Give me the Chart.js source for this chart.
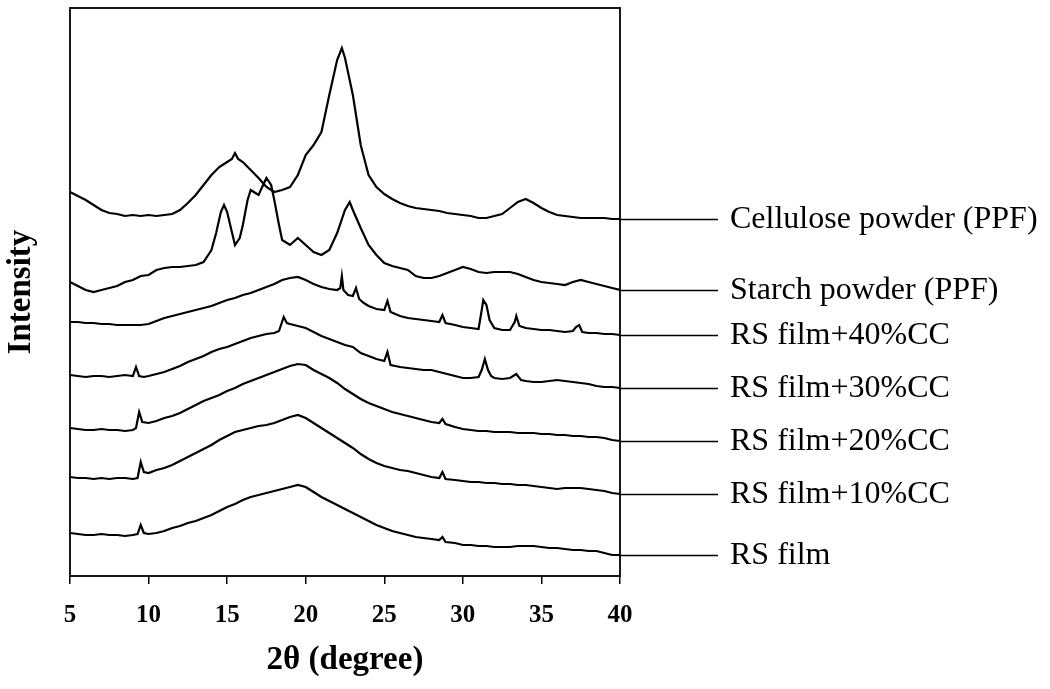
<html>
<head>
<script src="https://cdn.jsdelivr.net/npm/chart.js"></script>
<style>
  body { margin: 0; background: #fff; }
</style>
</head>
<body>
<canvas id="xrd" width="1050" height="689"></canvas>

<script>
// XRD patterns, stacked (intensity in arbitrary units, offsets already in the values)
const cellulose = [[5,384],[5.5,380],[6,376],[6.5,371],[7,366],[7.5,363],[8,362],[8.5,360],[9,361],[9.5,360],[10,361],[10.5,360],[11,361],[11.5,362],[12,366],[12.5,373],[13,381],[13.5,391],[14,401],[14.5,409],[15,414],[15.3,417],[15.5,423],[15.7,417],[16,414],[16.5,406],[17,398],[17.5,389],[18,384],[18.5,386],[19,389],[19.5,401],[20,421],[20.5,431],[21,444],[21.5,481],[22,516],[22.3,528],[22.5,518],[23,481],[23.5,431],[24,401],[24.5,389],[25,382],[25.5,377],[26,373],[26.5,370],[27,368],[27.5,367],[28,366],[28.5,365],[29,363],[29.5,362],[30,361],[30.5,360],[31,358],[31.5,358],[32,360],[32.5,362],[33,368],[33.5,374],[34,377],[34.5,373],[35,368],[35.5,364],[36,361],[36.5,360],[37,359],[37.5,358],[38,358],[38.5,358],[39,358],[39.5,357],[40,357]];

const starch = [[5,294],[5.5,290],[6,286],[6.5,284],[7,286],[7.5,288],[8,290],[8.5,294],[9,296],[9.5,300],[10,301],[10.5,306],[11,308],[11.5,309],[12,309],[12.5,310],[13,311],[13.5,314],[14,326],[14.3,343],[14.6,364],[14.8,371],[15,364],[15.3,344],[15.5,331],[15.8,338],[16,351],[16.3,376],[16.5,386],[16.8,383],[17,381],[17.2,388],[17.5,398],[17.8,391],[18,376],[18.3,351],[18.5,336],[19,331],[19.5,338],[20,331],[20.5,324],[21,321],[21.5,326],[22,343],[22.5,366],[22.8,374],[23,366],[23.5,348],[24,331],[24.5,321],[25,313],[25.5,310],[26,308],[26.5,306],[27,300],[27.5,298],[28,298],[28.5,300],[29,303],[29.5,306],[30,309],[30.5,307],[31,304],[31.5,303],[32,304],[32.5,304],[33,304],[33.5,302],[34,299],[34.5,296],[35,294],[35.5,293],[36,292],[36.5,291],[37,294],[37.5,296],[38,294],[38.5,292],[39,290],[39.5,288],[40,286]];

const rs40 = [[5,254],[5.5,254],[6,253],[6.5,253],[7,252],[7.5,252],[8,251],[8.5,251],[9,251],[9.5,251],[10,252],[10.5,255],[11,258],[11.5,260],[12,262],[12.5,264],[13,266],[13.5,268],[14,270],[14.5,273],[15,276],[15.5,278],[16,281],[16.5,283],[17,286],[17.5,289],[18,292],[18.5,296],[19,298],[19.5,299],[20,296],[20.5,292],[21,289],[21.5,287],[22,286],[22.2,288],[22.3,300],[22.4,286],[22.7,281],[23,280],[23.2,288],[23.4,277],[23.7,273],[24,270],[24.5,267],[25,266],[25.2,275],[25.4,264],[25.7,262],[26,260],[26.5,258],[27,257],[27.5,256],[28,255],[28.5,254],[28.7,261],[28.9,253],[29.5,251],[30,249],[30.5,248],[31,247],[31.2,266],[31.3,276],[31.5,271],[31.7,256],[32,248],[32.5,246],[33,246],[33.3,254],[33.4,260],[33.6,250],[34,248],[34.5,247],[35,246],[35.5,246],[36,245],[36.5,244],[37,245],[37.2,249],[37.4,251],[37.6,244],[38,243],[38.5,243],[39,242],[39.5,242],[40,241]];

const rs30 = [[5,201],[5.5,200],[6,199],[6.5,200],[7,200],[7.5,199],[8,200],[8.5,201],[9,200],[9.2,209],[9.4,200],[9.7,199],[10,200],[10.5,202],[11,204],[11.5,207],[12,210],[12.5,214],[13,217],[13.5,220],[14,224],[14.5,227],[15,229],[15.5,232],[16,235],[16.5,238],[17,240],[17.5,242],[18,243],[18.3,245],[18.6,259],[18.8,253],[19,252],[19.5,250],[20,248],[20.5,244],[21,240],[21.5,237],[22,234],[22.5,231],[23,229],[23.5,223],[24,220],[24.5,217],[25,215],[25.2,224],[25.4,211],[25.7,210],[26,209],[26.5,208],[27,207],[27.5,206],[28,206],[28.5,204],[29,202],[29.5,200],[30,198],[30.5,198],[31,199],[31.2,206],[31.4,217],[31.6,206],[31.8,200],[32,198],[32.5,197],[33,198],[33.4,202],[33.7,196],[34,195],[34.5,194],[35,194],[35.5,195],[36,196],[36.5,195],[37,194],[37.5,193],[38,192],[38.5,190],[39,189],[39.5,189],[40,188]];

const rs20 = [[5,148],[5.5,147],[6,146],[6.5,146],[7,147],[7.5,146],[8,146],[8.5,145],[9,146],[9.2,148],[9.4,164],[9.6,154],[10,153],[10.5,155],[11,158],[11.5,160],[12,163],[12.5,167],[13,171],[13.5,175],[14,178],[14.5,181],[15,185],[15.5,188],[16,192],[16.5,195],[17,198],[17.5,201],[18,204],[18.5,207],[19,210],[19.5,212],[20,211],[20.5,206],[21,202],[21.5,198],[22,193],[22.5,187],[23,182],[23.5,177],[24,173],[24.5,170],[25,167],[25.5,164],[26,162],[26.5,160],[27,158],[27.5,156],[28,154],[28.5,153],[28.7,157],[28.9,152],[29.5,149],[30,147],[30.5,146],[31,145],[31.5,145],[32,144],[32.5,144],[33,144],[33.5,143],[34,143],[34.5,143],[35,142],[35.5,142],[36,141],[36.5,141],[37,140],[37.5,140],[38,139],[38.5,139],[39,138],[39.5,136],[40,135]];

const rs10 = [[5,99],[5.5,98],[6,98],[6.5,97],[7,98],[7.5,97],[8,98],[8.5,98],[9,97],[9.3,98],[9.5,114],[9.7,104],[10,103],[10.5,106],[11,108],[11.5,111],[12,115],[12.5,119],[13,123],[13.5,127],[14,131],[14.5,136],[15,140],[15.5,144],[16,146],[16.5,148],[17,150],[17.5,151],[18,153],[18.5,156],[19,159],[19.5,161],[20,158],[20.5,153],[21,148],[21.5,143],[22,138],[22.5,133],[23,128],[23.5,122],[24,117],[24.5,113],[25,110],[25.5,108],[26,106],[26.5,105],[27,103],[27.5,101],[28,99],[28.5,98],[28.7,104],[28.9,97],[29.5,96],[30,95],[30.5,94],[31,94],[31.5,93],[32,93],[32.5,92],[33,92],[33.5,91],[34,91],[34.5,90],[35,89],[35.5,88],[36,87],[36.5,88],[37,88],[37.5,88],[38,87],[38.5,86],[39,85],[39.5,83],[40,82]];

const rsFilm = [[5,43],[5.5,42],[6,41],[6.5,41],[7,42],[7.5,41],[8,41],[8.5,40],[9,41],[9.3,42],[9.5,51],[9.7,43],[10,42],[10.5,43],[11,45],[11.5,48],[12,50],[12.5,53],[13,55],[13.5,58],[14,61],[14.5,65],[15,69],[15.5,72],[16,76],[16.5,79],[17,81],[17.5,83],[18,85],[18.5,87],[19,89],[19.5,91],[20,89],[20.5,84],[21,79],[21.5,75],[22,71],[22.5,67],[23,63],[23.5,59],[24,55],[24.5,51],[25,48],[25.5,45],[26,43],[26.5,41],[27,39],[27.5,38],[28,37],[28.5,36],[28.7,39],[28.9,34],[29.5,33],[30,31],[30.5,31],[31,30],[31.5,30],[32,29],[32.5,29],[33,29],[33.5,30],[34,30],[34.5,30],[35,29],[35.5,28],[36,28],[36.5,27],[37,26],[37.5,26],[38,25],[38.5,25],[39,23],[39.5,21],[40,21]];

const seriesNames = ['Cellulose powder (PPF)', 'Starch powder (PPF)', 'RS film+40%CC', 'RS film+30%CC', 'RS film+20%CC', 'RS film+10%CC', 'RS film'];
const seriesData = [cellulose, starch, rs40, rs30, rs20, rs10, rsFilm];
const xTicks = [5, 10, 15, 20, 25, 30, 35, 40];

const serif = "'Liberation Serif', 'Times New Roman', serif";

// box around plot + labels on the right with leader lines
const framePlugin = {
  id: 'frame',
  afterDatasetsDraw(chart) {
    const ctx = chart.ctx;
    const a = chart.chartArea;
    const yScale = chart.scales.y;
    ctx.save();
    ctx.strokeStyle = '#000';
    ctx.lineWidth = 1.8;
    ctx.strokeRect(a.left, a.top, a.right - a.left, a.bottom - a.top);

    ctx.font = '32px ' + serif;
    ctx.fillStyle = '#000';
    ctx.textBaseline = 'middle';
    chart.data.datasets.forEach(function (ds) {
      const last = ds.data[ds.data.length - 1];
      const y = Math.round(yScale.getPixelForValue(last.y)) + 0.5;
      ctx.lineWidth = 1.5;
      ctx.beginPath();
      ctx.moveTo(a.right, y);
      ctx.lineTo(718, y);
      ctx.stroke();
      ctx.fillText(ds.label, 730, y);
    });
    ctx.restore();
  }
};

const datasets = seriesData.map(function (s, i) {
  return {
    label: seriesNames[i],
    data: s.map(function (p) { return { x: p[0], y: p[1] }; }),
    borderColor: '#000',
    borderWidth: 2.2,
    pointRadius: 0,
    tension: 0,
    fill: false
  };
});

new Chart(document.getElementById('xrd'), {
  type: 'line',
  data: { datasets: datasets },
  options: {
    responsive: false,
    animation: false,
    devicePixelRatio: 1,
    layout: { padding: { left: 0, right: 430, top: 8, bottom: 0 } },
    plugins: { legend: { display: false }, tooltip: { enabled: false } },
    scales: {
      x: {
        type: 'linear',
        min: 5,
        max: 40,
        afterFit: function (scale) { scale.height = 113; },
        afterBuildTicks: function (scale) {
          scale.ticks = xTicks.map(function (v) { return { value: v }; });
        },
        ticks: {
          color: '#000',
          padding: 17,
          font: { family: serif, size: 25, weight: 'bold' }
        },
        grid: {
          drawOnChartArea: false,
          drawTicks: true,
          tickLength: 8,
          color: '#000',
          lineWidth: 1.5
        },
        border: { display: false },
        title: {
          display: true,
          text: '2\u03b8 (degree)',
          color: '#000',
          font: { family: serif, size: 33, weight: 'bold' },
          padding: { top: 0, bottom: 9 }
        }
      },
      y: {
        min: 0,
        max: 568,
        afterFit: function (scale) { scale.width = 70; },
        ticks: { display: false },
        grid: { display: false },
        border: { display: false },
        title: {
          display: true,
          text: 'Intensity',
          color: '#000',
          font: { family: serif, size: 33, weight: 'bold' },
          padding: { top: 2, bottom: 0 }
        }
      }
    }
  },
  plugins: [framePlugin]
});
</script>
</body>
</html>
